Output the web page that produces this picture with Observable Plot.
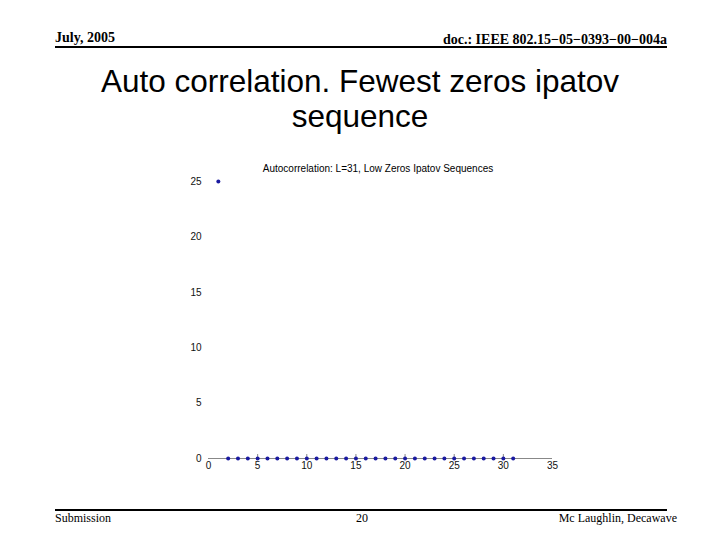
<!DOCTYPE html>
<html>
<head>
<meta charset="utf-8">
<script src="https://cdn.jsdelivr.net/npm/d3@7"></script>
<script src="https://cdn.jsdelivr.net/npm/@observablehq/plot@0.6"></script>
<style>
  html, body { margin: 0; padding: 0; background: #fff; }
  #page { position: relative; width: 720px; height: 540px; overflow: hidden; background: #fff; }
  .serif { font-family: "Liberation Serif", "Times New Roman", serif; color: #000; position: absolute; white-space: nowrap; }
  .rule { position: absolute; background: #000; height: 2px; }
  #title { position: absolute; left: 0; width: 720px; top: 64px; text-align: center;
           font-family: "Liberation Sans", Arial, sans-serif; font-size: 31.5px; line-height: 35px; color: #000; }
  #ctitle { position: absolute; left: 178px; width: 400px; top: 163px; text-align: center;
            font-family: "Liberation Sans", Arial, sans-serif; font-size: 10px; color: #000; }
  #chart { position: absolute; left: 150px; top: 150px; }
</style>
</head>
<body>
<div id="page">
  <div class="serif" style="left:55px; top:30px; font-size:14px; font-weight:bold;">July, 2005</div>
  <div class="serif" style="right:53px; top:32px; font-size:14px; font-weight:bold;">doc.: IEEE 802.15−05−0393−00−004a</div>
  <div class="rule" style="left:55px; width:612px; top:46px;"></div>
  <div id="title">Auto correlation. Fewest zeros ipatov<br>sequence</div>
  <div id="ctitle">Autocorrelation: L=31, Low Zeros Ipatov Sequences</div>
  <div id="chart"></div>
  <div class="rule" style="left:55px; width:612px; top:509px;"></div>
  <div class="serif" style="left:55px; top:511px; font-size:12px;">Submission</div>
  <div class="serif" style="left:342px; width:40px; text-align:center; top:511px; font-size:12px;">20</div>
  <div class="serif" style="right:43px; top:511px; font-size:12px;">Mc Laughlin, Decawave</div>
</div>
<script>
const lags = [1, 2, 3, 4, 5, 6, 7, 8, 9, 10, 11, 12, 13, 14, 15, 16, 17, 18, 19, 20, 21, 22, 23, 24, 25, 26, 27, 28, 29, 30, 31];
const values = [25, 0, 0, 0, 0, 0, 0, 0, 0, 0, 0, 0, 0, 0, 0, 0, 0, 0, 0, 0, 0, 0, 0, 0, 0, 0, 0, 0, 0, 0, 0];
const xTickLabels = [0, 5, 10, 15, 20, 25, 30, 35];
const xTickMarks = [5, 10, 15, 20, 25, 30];
const yTickLabels = [0, 5, 10, 15, 20, 25];

const data = lags.map((l, i) => ({lag: l, value: values[i]}));

const chart = Plot.plot({
  width: 420,
  height: 340,
  marginLeft: 58,
  marginRight: 18,
  marginTop: 31,
  marginBottom: 32,
  style: {fontFamily: "'Liberation Sans', Arial, sans-serif", fontSize: "10px", color: "#111", background: "transparent"},
  x: {domain: [0, 35], label: null},
  y: {domain: [0, 25], label: null},
  marks: [
    Plot.ruleY([0], {x1: 0, x2: 35, stroke: "#888", strokeWidth: 1}),
    Plot.axisX(xTickMarks, {tickSize: -4, text: null, stroke: "#888", label: null}),
    Plot.axisX(xTickLabels, {tickSize: 0, tickPadding: 3, label: null}),
    Plot.axisY(yTickLabels, {tickSize: 0, tickPadding: 7, label: null}),
    Plot.dot(data, {x: "lag", y: "value", r: 2, fill: "#1a1aa0", stroke: "none"})
  ]
});
document.getElementById("chart").appendChild(chart);
</script>
</body>
</html>
